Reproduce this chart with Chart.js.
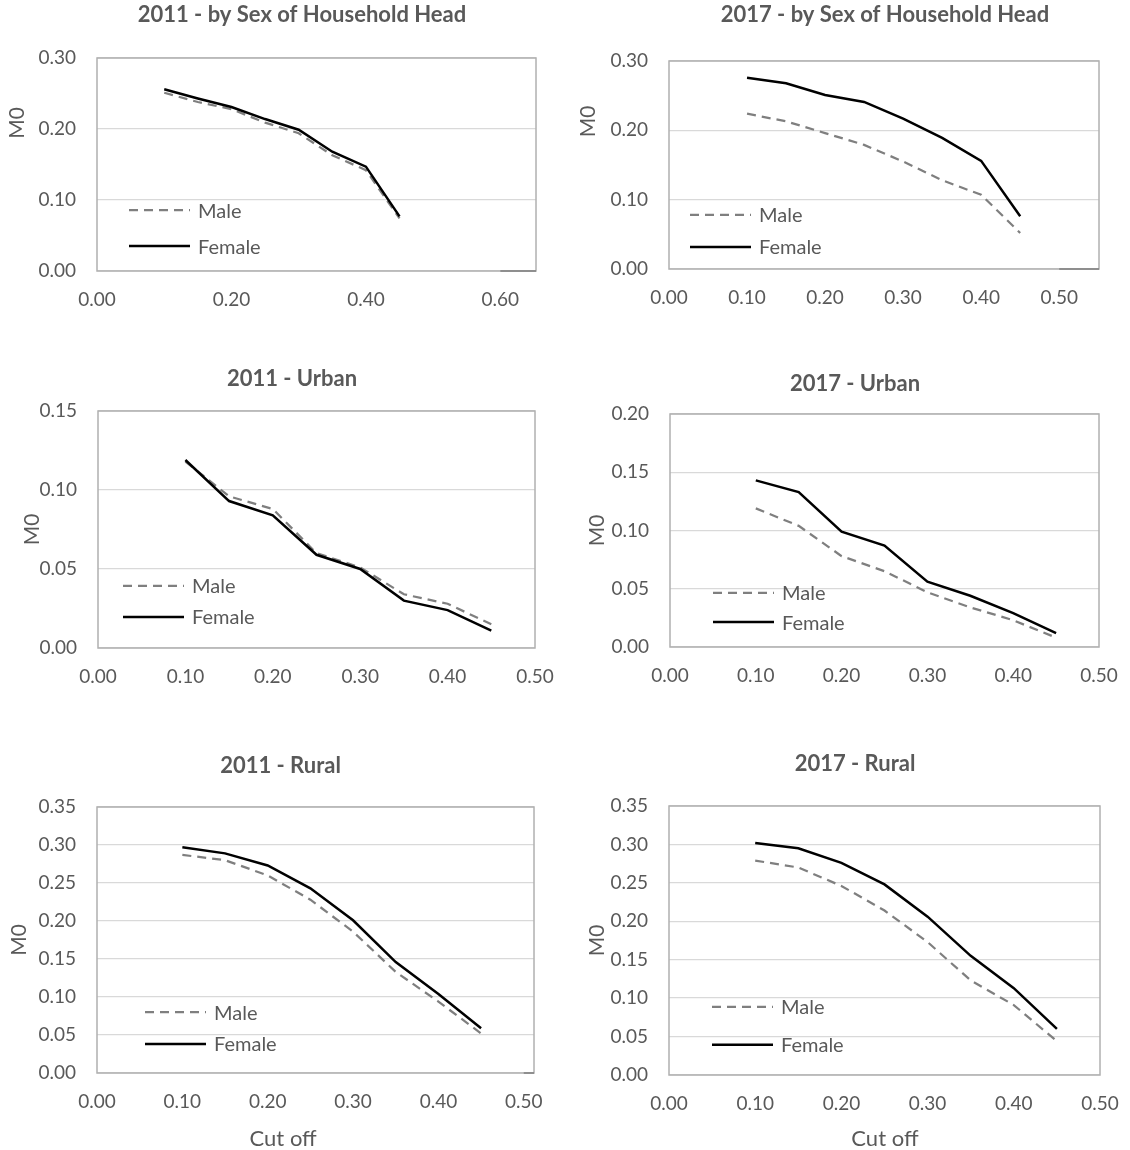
<!DOCTYPE html>
<html>
<head>
<meta charset="utf-8">
<title>M0 by cut off</title>
<script src="https://cdn.jsdelivr.net/npm/chart.js@4.4.1/dist/chart.umd.min.js"></script>
<style>
  html, body { margin: 0; padding: 0; background: #fff; width: 1130px; height: 1150px; overflow: hidden; }
  canvas { position: absolute; }
</style>
</head>
<body>
<canvas id="c1"></canvas>
<canvas id="c2"></canvas>
<canvas id="c3"></canvas>
<canvas id="c4"></canvas>
<canvas id="c5"></canvas>
<canvas id="c6"></canvas>
<script>
// cut off values shared by every panel
var cutoffs = [0.10, 0.15, 0.20, 0.25, 0.30, 0.35, 0.40, 0.45];

// M0 values
var male2011Sex   = [0.251, 0.238, 0.228, 0.209, 0.194, 0.163, 0.142, 0.074];
var female2011Sex = [0.256, 0.243, 0.231, 0.214, 0.199, 0.168, 0.147, 0.077];
var male2017Sex   = [0.224, 0.213, 0.196, 0.179, 0.155, 0.128, 0.107, 0.052];
var female2017Sex = [0.276, 0.268, 0.251, 0.241, 0.217, 0.189, 0.156, 0.076];

var male2011Urban   = [0.118, 0.096, 0.088, 0.060, 0.051, 0.034, 0.028, 0.015];
var female2011Urban = [0.119, 0.093, 0.084, 0.059, 0.050, 0.030, 0.024, 0.011];
var male2017Urban   = [0.119, 0.104, 0.078, 0.065, 0.047, 0.034, 0.023, 0.008];
var female2017Urban = [0.143, 0.133, 0.099, 0.087, 0.056, 0.044, 0.029, 0.012];

var male2011Rural   = [0.287, 0.280, 0.260, 0.228, 0.186, 0.133, 0.094, 0.052];
var female2011Rural = [0.297, 0.289, 0.273, 0.243, 0.201, 0.146, 0.104, 0.059];
var male2017Rural   = [0.279, 0.270, 0.246, 0.214, 0.173, 0.123, 0.091, 0.044];
var female2017Rural = [0.302, 0.295, 0.276, 0.248, 0.206, 0.155, 0.113, 0.060];

// tick labels
var xTicksWide  = [0, 0.2, 0.4, 0.6];
var xTicks      = [0, 0.1, 0.2, 0.3, 0.4, 0.5];
var yTicks030   = [0, 0.1, 0.2, 0.3];
var yTicks015   = [0, 0.05, 0.10, 0.15];
var yTicks020   = [0, 0.05, 0.10, 0.15, 0.20];
var yTicks035   = [0, 0.05, 0.10, 0.15, 0.20, 0.25, 0.30, 0.35];

var GREY_TEXT = '#595959';
var FONT = 'Lato';

// plot frame, with the darker axis stub past the last labelled tick
var frame = {
    id: 'frame',
    beforeDatasetsDraw: function(chart) {
        var a = chart.chartArea, ctx = chart.ctx, xs = chart.scales.x;
        ctx.save();
        ctx.strokeStyle = '#b0b0b0';
        ctx.lineWidth = 1.5;
        ctx.strokeRect(a.left, a.top, a.right - a.left, a.bottom - a.top);
        var px = xs.getPixelForValue(xs.ticks[xs.ticks.length - 1].value);
        if (a.right - px > 2) {
            ctx.strokeStyle = '#7f7f7f';
            ctx.beginPath();
            ctx.moveTo(px, a.bottom);
            ctx.lineTo(a.right, a.bottom);
            ctx.stroke();
        }
        ctx.restore();
    }
};

// legend drawn inside the plot area
var insideLegend = {
    id: 'insideLegend',
    afterDatasetsDraw: function(chart, args, opts) {
        var a = chart.chartArea, ctx = chart.ctx;
        chart.data.datasets.forEach(function(ds, i) {
            var x0 = a.left + opts.dx;
            var y = a.top + opts.rows[i] * (a.bottom - a.top);
            ctx.save();
            ctx.strokeStyle = ds.borderColor;
            ctx.lineWidth = ds.borderWidth;
            ctx.setLineDash(ds.borderDash || []);
            ctx.beginPath();
            ctx.moveTo(x0, y);
            ctx.lineTo(x0 + 61, y);
            ctx.stroke();
            ctx.setLineDash([]);
            ctx.fillStyle = GREY_TEXT;
            ctx.font = '20px ' + FONT;
            ctx.textBaseline = 'middle';
            ctx.fillText(ds.label, x0 + 69, y + 1);
            ctx.restore();
        });
    }
};

// axis titles (Excel places them off-centre in some panels)
var axisLabels = {
    id: 'axisLabels',
    afterDraw: function(chart, args, opts) {
        var a = chart.chartArea, ctx = chart.ctx;
        ctx.save();
        ctx.fillStyle = GREY_TEXT;
        ctx.textAlign = 'center';
        ctx.textBaseline = 'middle';
        if (opts.cut) {
            ctx.font = '22px ' + FONT;
            ctx.fillText('Cut off', a.left + opts.cut.frac * (a.right - a.left), a.bottom + opts.cut.dy);
        }
        ctx.font = '21px ' + FONT;
        ctx.translate(a.left + opts.m0.dx, a.top + opts.m0.frac * (a.bottom - a.top));
        ctx.rotate(-Math.PI / 2);
        ctx.fillText('M0', 0, 0);
        ctx.restore();
    }
};

var panels = [
    { id: 'c1', title: '2011 - by Sex of Household Head', male: male2011Sex, female: female2011Sex,
      xTicks: xTicksWide, xMax: 0.653, yTicks: yTicks030,
      box: [0, 0, 604, 330], yw: 97, rw: 68, xh: 59, tp: 1.8, tb: 29.8,
      legend: { dx: 32, rows: [0.714, 0.883] }, m0: { dx: -80, frac: 0.305 } },
    { id: 'c2', title: '2017 - by Sex of Household Head', male: male2017Sex, female: female2017Sex,
      xTicks: xTicks, xMax: 0.551, yTicks: yTicks030,
      box: [560, 0, 650, 330], yw: 109, rw: 111, xh: 61, tp: 1.8, tb: 32.8,
      legend: { dx: 21, rows: [0.740, 0.894] }, m0: { dx: -81, frac: 0.29 } },
    { id: 'c3', title: '2011 - Urban', male: male2011Urban, female: female2011Urban,
      xTicks: xTicks, xMax: 0.5, yTicks: yTicks015,
      box: [0, 360, 584, 350], yw: 98, rw: 49, xh: 62, tp: 5.8, tb: 18.8,
      legend: { dx: 25, rows: [0.738, 0.869] }, m0: { dx: -66, frac: 0.5 } },
    { id: 'c4', title: '2017 - Urban', male: male2017Urban, female: female2017Urban,
      xTicks: xTicks, xMax: 0.5, yTicks: yTicks020,
      box: [560, 360, 590, 350], yw: 110, rw: 51, xh: 63, tp: 10.8, tb: 16.8,
      legend: { dx: 43, rows: [0.768, 0.893] }, m0: { dx: -73, frac: 0.5 } },
    { id: 'c5', title: '2011 - Rural', male: male2011Rural, female: female2011Rural,
      xTicks: xTicks, xMax: 0.512, yTicks: yTicks035,
      box: [0, 740, 561, 410], yw: 97, rw: 27, xh: 77, tp: 12.8, tb: 27.8,
      legend: { dx: 48, rows: [0.771, 0.891] }, m0: { dx: -78, frac: 0.5 },
      cut: { frac: 0.426, dy: 66 } },
    { id: 'c6', title: '2017 - Rural', male: male2017Rural, female: female2017Rural,
      xTicks: xTicks, xMax: 0.5, yTicks: yTicks035,
      box: [560, 740, 590, 410], yw: 109, rw: 50, xh: 75, tp: 10.8, tb: 28.8,
      legend: { dx: 43, rows: [0.747, 0.888] }, m0: { dx: -72, frac: 0.5 },
      cut: { frac: 0.501, dy: 64 } }
];

function points(values) {
    return cutoffs.map(function(c, i) { return { x: c, y: values[i] }; });
}

function tickFont() {
    return { family: FONT, size: 19 };
}

panels.forEach(function(p) {
    var canvas = document.getElementById(p.id);
    canvas.width = p.box[2];
    canvas.height = p.box[3];
    canvas.style.left = p.box[0] + 'px';
    canvas.style.top = p.box[1] + 'px';
    canvas.style.width = p.box[2] + 'px';
    canvas.style.height = p.box[3] + 'px';

    new Chart(canvas.getContext('2d'), {
        type: 'scatter',
        data: {
            datasets: [{
                label: 'Male',
                data: points(p.male),
                showLine: true,
                borderColor: '#7f7f7f',
                borderWidth: 2.25,
                borderDash: [9, 6],
                pointRadius: 0,
                tension: 0,
                order: 1
            }, {
                label: 'Female',
                data: points(p.female),
                showLine: true,
                borderColor: '#000000',
                borderWidth: 2.5,
                pointRadius: 0,
                tension: 0,
                order: 0
            }]
        },
        options: {
            responsive: false,
            animation: false,
            events: [],
            layout: { padding: 0 },
            plugins: {
                legend: { display: false },
                tooltip: { enabled: false },
                title: {
                    display: true,
                    text: p.title,
                    color: GREY_TEXT,
                    font: { family: FONT, size: 22, weight: 'bold' },
                    padding: { top: p.tp, bottom: p.tb }
                },
                insideLegend: p.legend,
                axisLabels: { m0: p.m0, cut: p.cut }
            },
            scales: {
                x: {
                    type: 'linear',
                    min: 0,
                    max: p.xMax,
                    afterBuildTicks: function(ax) { ax.ticks = p.xTicks.map(function(v) { return { value: v }; }); },
                    afterFit: function(s) { s.height = p.xh; },
                    grid: { display: false },
                    border: { display: false },
                    ticks: {
                        padding: 9,
                        color: GREY_TEXT,
                        font: tickFont(),
                        autoSkip: false,
                        maxRotation: 0,
                        callback: function(v) { return v.toFixed(2); }
                    }
                },
                y: {
                    type: 'linear',
                    min: 0,
                    max: p.yTicks[p.yTicks.length - 1],
                    afterBuildTicks: function(ax) { ax.ticks = p.yTicks.map(function(v) { return { value: v }; }); },
                    afterFit: function(s) { s.width = p.yw; },
                    grid: { color: '#d9d9d9', lineWidth: 1.3, drawTicks: false },
                    border: { display: false },
                    ticks: {
                        padding: 21,
                        color: GREY_TEXT,
                        font: tickFont(),
                        callback: function(v) { return v.toFixed(2); }
                    }
                },
                spacer: {
                    type: 'linear',
                    position: 'right',
                    afterFit: function(s) { s.width = p.rw; },
                    grid: { display: false },
                    border: { display: false },
                    ticks: { display: false }
                }
            }
        },
        plugins: [frame, insideLegend, axisLabels]
    });
});
</script>
</body>
</html>
